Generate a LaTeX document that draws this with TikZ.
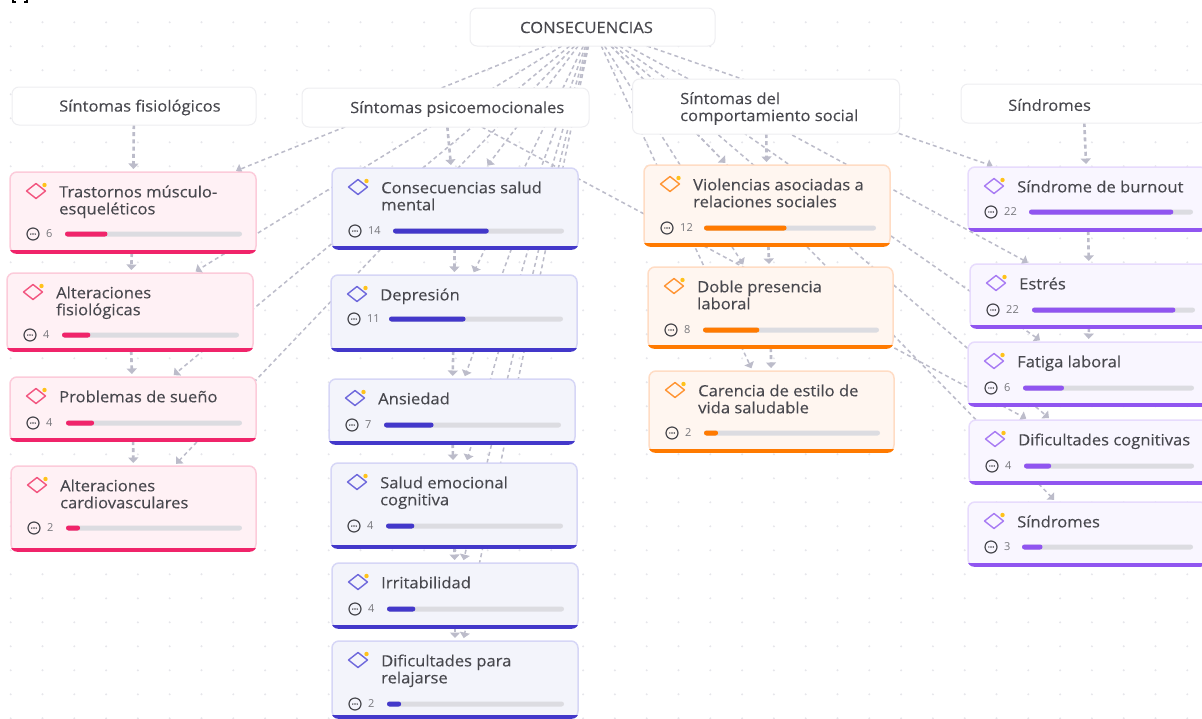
\documentclass[tikz,border=0pt]{standalone}
\usepackage{fontspec}
\setmainfont{Open Sans}
\newfontfamily\lblfont[FakeStretch=1.07,FakeBold=0.25]{Open Sans}
\usetikzlibrary{arrows.meta}
\pgfdeclarelayer{dots}
\pgfdeclarelayer{wires}
\pgfsetlayers{dots,wires,main}
\definecolor{txt}{HTML}{48484E}
\definecolor{cnt}{HTML}{77777C}
\definecolor{wire}{HTML}{BCBCCA}
\definecolor{track}{HTML}{DCDCE1}
\definecolor{dotc}{HTML}{E6E6EB}
\definecolor{hdrb}{HTML}{EEEEF1}
\definecolor{star}{HTML}{FFC21A}
\definecolor{pinkF}{HTML}{FFF1F5}\definecolor{pinkB}{HTML}{FCCBDA}\definecolor{pinkS}{HTML}{F0246A}\definecolor{pinkD}{HTML}{F2557F}
\definecolor{blueF}{HTML}{F3F4FB}\definecolor{blueB}{HTML}{D6D6F6}\definecolor{blueS}{HTML}{4338CA}\definecolor{blueD}{HTML}{6E68DC}
\definecolor{oranF}{HTML}{FFF6F0}\definecolor{oranB}{HTML}{FFDCC4}\definecolor{oranS}{HTML}{FF7A00}\definecolor{oranD}{HTML}{FF9433}
\definecolor{purpF}{HTML}{F9F6FF}\definecolor{purpB}{HTML}{E7DBFD}\definecolor{purpS}{HTML}{9055F0}\definecolor{purpD}{HTML}{A87BF3}
\tikzset{
  header/.style={draw=hdrb,line width=1pt,fill=white,rounded corners=7pt,inner sep=0pt,outer sep=0pt},
  hdrtext/.style={anchor=west,text=txt,font=\lblfont\fontsize{15.5}{17}\selectfont,align=left,inner sep=0pt},
  cardbox/.style={rounded corners=7pt,inner sep=0pt,outer sep=0pt,line width=1.5pt},
  cardtitle/.style={text=txt,font=\lblfont\fontsize{15.5}{17}\selectfont,align=left,inner sep=0pt},
  cardcount/.style={anchor=west,text=cnt,font=\fontsize{11}{12}\selectfont,inner sep=0pt},
  link/.style={draw=wire,line width=1.5pt,dash pattern=on 4pt off 3.2pt,shorten >=3pt,-{Triangle[width=10pt,length=5.5pt,fill=wire]}},
  vlink/.style={link,line width=2.6pt,-{Triangle[width=10pt,length=5.5pt,fill=wire]}},
}
% name, x, y, w, h, theme, title, count, bar start; \bo = distance of the bar from the card bottom
\def\bo{19}
\newcommand{\card}[9]{%
  \node[cardbox,draw=#6B,fill=#6F,minimum width=#4pt,minimum height=#5pt,anchor=north west] (#1) at (#2,#3) {};
  \begin{scope}
  \clip[rounded corners=7pt] (#2-0.75,#3-0.75) rectangle (#2+#4+0.75,#3+#5+0.75);
  \fill[#6S] (#2-1,#3+#5-3.5) rectangle (#2+#4+1,#3+#5+1);
  \end{scope}
  \draw[#6D,line width=1.4pt,line join=round] (#2+16.5,#3+19) -- (#2+26,#3+11.5) -- (#2+35.5,#3+19) -- (#2+26,#3+26.5) -- cycle;
  \fill[star] (#2+34.5,#3+13) circle (2.2);
  \node[cardtitle,anchor=north west] (#1-t) at (#2+49,#3+13.3) {#7};
  \draw[txt,line width=1.2pt] (#2+23,#3+#5-\bo) circle (6);
  \foreach \d in {-2.2,0,2.2}{\fill[txt] (#2+23+\d,#3+#5-\bo) circle (0.8);}
  \node[cardcount] (#1-c) at (#2+36,#3+#5-\bo) {#8};
  \fill[track,rounded corners=2.5pt] (#2+#9,#3+#5-\bo-2.5) rectangle (#2+#4-14,#3+#5-\bo+2.5);
  \pgfmathsetmacro{\barend}{#2+#9+(#4-14-#9)*#8/25}
  \fill[#6S,rounded corners=2.5pt] (#2+#9,#3+#5-\bo-2.5) rectangle (\barend,#3+#5-\bo+2.5);
}
\begin{document}
\begin{tikzpicture}[x=1pt,y=-1pt]
\useasboundingbox (0,0) rectangle (1202,718);
\clip (0,0) rectangle (1202,718);
\begin{pgfonlayer}{dots}
\fill[white] (0,0) rectangle (1202,718);
\foreach \i in {0,...,37}{\foreach \j in {0,...,29}{
  \fill[dotc] (10.7+31.8*\i,22.3+24*\j) circle (1.1);
}}
\end{pgfonlayer}
% clipped glyph at the top edge
\draw[black,line width=1.1pt] (13,0) -- (13,2) -- (16,2) (27,0) -- (27,2) -- (24,2);
% headers
\node[header,minimum width=245pt,minimum height=38pt,anchor=north west] (root) at (470,8) {};
\node[anchor=center,text=txt,font=\lblfont\fontsize{15.5}{17}\selectfont,inner sep=0pt] (root-t) at (586.5,27.5) {CONSECUENCIAS};
\node[header,minimum width=244pt,minimum height=38pt,anchor=north west] (hfis) at (12,87) {};
\node[hdrtext] (hfis-t) at (59,107.5) {Síntomas fisiológicos};
\node[header,minimum width=287pt,minimum height=39pt,anchor=north west] (hpsi) at (302,88) {};
\node[hdrtext] (hpsi-t) at (350,109) {Síntomas psicoemocionales};
\node[header,minimum width=267pt,minimum height=55pt,anchor=north west] (hsoc) at (632.5,79) {};
\node[hdrtext] (hsoc-t) at (680,108.5) {Síntomas del\\comportamiento social};
\node[header,minimum width=245pt,minimum height=39pt,anchor=north west] (hsin) at (961,84) {};
\node[hdrtext] (hsin-t) at (1008,105) {Síndromes};
% column 1
\card{a1}{10}{172}{246}{81}{pink}{Trastornos músculo-\\esqueléticos}{6}{55}
\def\bo{16}
\card{a2}{7}{273}{246}{78}{pink}{Alteraciones\\fisiológicas}{4}{55}
\def\bo{18}
\card{a3}{10}{377}{246}{64}{pink}{Problemas de sueño}{4}{56}
\def\bo{23}
\card{a4}{11}{466}{245}{85}{pink}{Alteraciones\\cardiovasculares}{2}{55}
% column 2
\def\bo{18}
\card{b1}{332}{168}{246}{81}{blue}{Consecuencias salud\\mental}{14}{61}
\def\bo{32}
\card{b2}{331}{275}{246}{76}{blue}{Depresión}{11}{58}
\def\bo{19}
\card{b3}{329}{379}{246}{65}{blue}{Ansiedad}{7}{55}
\def\bo{22}
\card{b4}{331}{463}{246}{85}{blue}{Salud emocional\\cognitiva}{4}{55}
\def\bo{19}
\card{b5}{332}{563}{246}{65}{blue}{Irritabilidad}{4}{55}
\def\bo{14}
\card{b6}{332}{641}{246}{77}{blue}{Dificultades para\\relajarse}{2}{55}
% column 3
\def\bo{18}
\card{c1}{644}{165}{246}{81}{oran}{Violencias asociadas a\\relaciones sociales}{12}{60}
\card{c2}{648}{267}{245}{81}{oran}{Doble presencia\\laboral}{8}{55}
\def\bo{19}
\card{c3}{649}{371}{245}{81}{oran}{Carencia de estilo de\\vida saludable}{2}{55}
% column 4
\card{d1}{968}{167}{239}{64}{purp}{Síndrome de burnout}{22}{61}
\def\bo{18}
\card{d2}{970}{264}{239}{64}{purp}{Estrés}{22}{62}
\card{d3}{968}{342}{240}{64}{purp}{Fatiga laboral}{6}{55}
\card{d4}{969}{420}{239}{64}{purp}{Dificultades cognitivas}{4}{55}
\def\bo{19}
\card{d5}{968}{502}{239}{64}{purp}{Síndromes}{3}{54}
% connectors
\begin{pgfonlayer}{wires}
\foreach \t in {a1,a2,a3,a4,b1,b2,b3,b4,b5,b6,c1,c2,c3,d1,d2,d3,d4,d5}{
  \draw[link] (root) -- (\t);
}
\draw[link] (hpsi) -- (d4);
\draw[vlink] (hfis) -- (a1);
\draw[vlink] (a1) -- (a2);
\draw[vlink] (a2) -- (a3);
\draw[vlink] (a3) -- (a4);
\draw[vlink] (hpsi) -- (b1);
\draw[vlink] (b1) -- (b2);
\draw[vlink] (b2) -- (b3);
\draw[vlink] (b3) -- (b4);
\draw[vlink] (b4) -- (b5);
\draw[vlink] (b5) -- (b6);
\draw[vlink] (hsoc) -- (c1);
\draw[vlink] (c1) -- (c2);
\draw[vlink] (c2) -- (c3);
\draw[vlink] (hsin) -- (d1);
\draw[vlink] (d1) -- (d2);
\draw[vlink] (d2) -- (d3);
\end{pgfonlayer}
\end{tikzpicture}
\end{document}
